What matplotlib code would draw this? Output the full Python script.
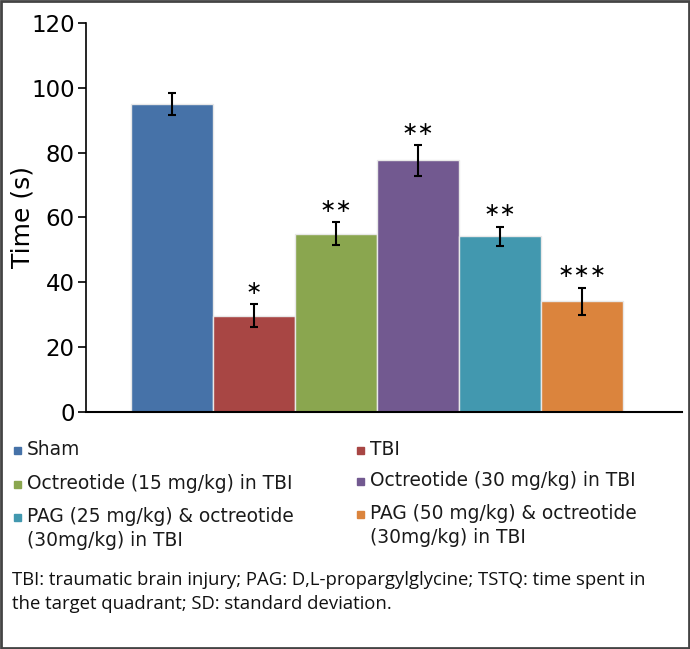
import numpy as np
import matplotlib.pyplot as plt
from matplotlib.patches import Rectangle

# ============================================================
# DATA
# ============================================================

groups = [
    "Sham",
    "TBI",
    "Octreotide (15 mg/kg) in TBI",
    "Octreotide (30 mg/kg) in TBI",
    "PAG (25 mg/kg) & octreotide\n(30mg/kg) in TBI",
    "PAG (50 mg/kg) & octreotide\n(30mg/kg) in TBI",
]
means = [95.0, 29.7, 55.0, 77.6, 54.2, 34.2]
errors = [3.5, 3.5, 3.6, 4.7, 2.9, 4.2]
stars = ["", "*", "**", "**", "**", "***"]
colors = ["#4672A8", "#A84644", "#8AA64F", "#725990", "#4298AF", "#DB843D"]

yticks = [0, 20, 40, 60, 80, 100, 120]

footnote = ("TBI: traumatic brain injury; PAG: D,L-propargylglycine; TSTQ: time spent in\n"
            "the target quadrant; SD: standard deviation.")

# ============================================================
# PLOT
# ============================================================

fig = plt.figure(figsize=(6.9, 6.49), dpi=100)
ax = fig.add_axes([0.1246, 0.3652, 0.8634, 0.5994])

x = np.arange(len(groups))
ax.bar(x, means, width=1.0, color=colors, edgecolor="#e8e8e8", linewidth=1.0)
ax.errorbar(x, means, yerr=errors, fmt="none", ecolor="black",
            elinewidth=1.5, capsize=3, capthick=1.5)

for xi, m, e, s in zip(x, means, errors, stars):
    if s:
        ax.text(xi, m + e + 2.0, s.replace("*", "\u2217"), ha="center", va="bottom",
                fontsize=14, family="DejaVu Sans")

ax.set_xlim(-1.05, 6.22)
ax.set_ylim(0, 120)
ax.set_yticks(yticks)
ax.set_yticklabels([str(v) for v in yticks], fontsize=16.5, family="DejaVu Sans")
ax.set_xticks([])
ax.tick_params(axis="y", direction="out", length=6, width=1.2, pad=2)
ax.set_ylabel("Time (s)", fontsize=18, family="DejaVu Sans")
ax.yaxis.set_label_coords(-0.087, 0.5)

for side in ["top", "right"]:
    ax.spines[side].set_visible(False)
ax.spines["left"].set_linewidth(1.2)
ax.spines["bottom"].set_linewidth(1.5)

# ============================================================
# LEGEND (two columns, drawn by hand)
# ============================================================

W, H = 690.0, 649.0
col_x = [14, 357]
row_y = [451, 485, 518]

for i, (label, c) in enumerate(zip(groups, colors)):
    cx = col_x[i % 2]
    cy = row_y[i // 2] - (3 if (i % 2 == 1 and i >= 2) else 0)
    fig.patches.append(Rectangle(((cx) / W, 1 - (cy + 3) / H), 7 / W, 7 / H,
                                 transform=fig.transFigure, color=c))
    fig.text((cx + 13) / W, 1 - (cy - 11) / H, label, ha="left", va="top",
             fontsize=13.4, family="DejaVu Sans", color="#1a1a1a",
             linespacing=1.35)

fig.text(12 / W, 1 - 571 / H, footnote, ha="left", va="top",
         fontsize=13.3, family="Open Sans", color="#111111", linespacing=1.42)

# border round the whole figure
fig.patches.append(Rectangle((0.002, 0.002), 0.996, 0.996, transform=fig.transFigure,
                             fill=False, edgecolor="#444444", linewidth=2))

plt.savefig("out.png", dpi=100)
